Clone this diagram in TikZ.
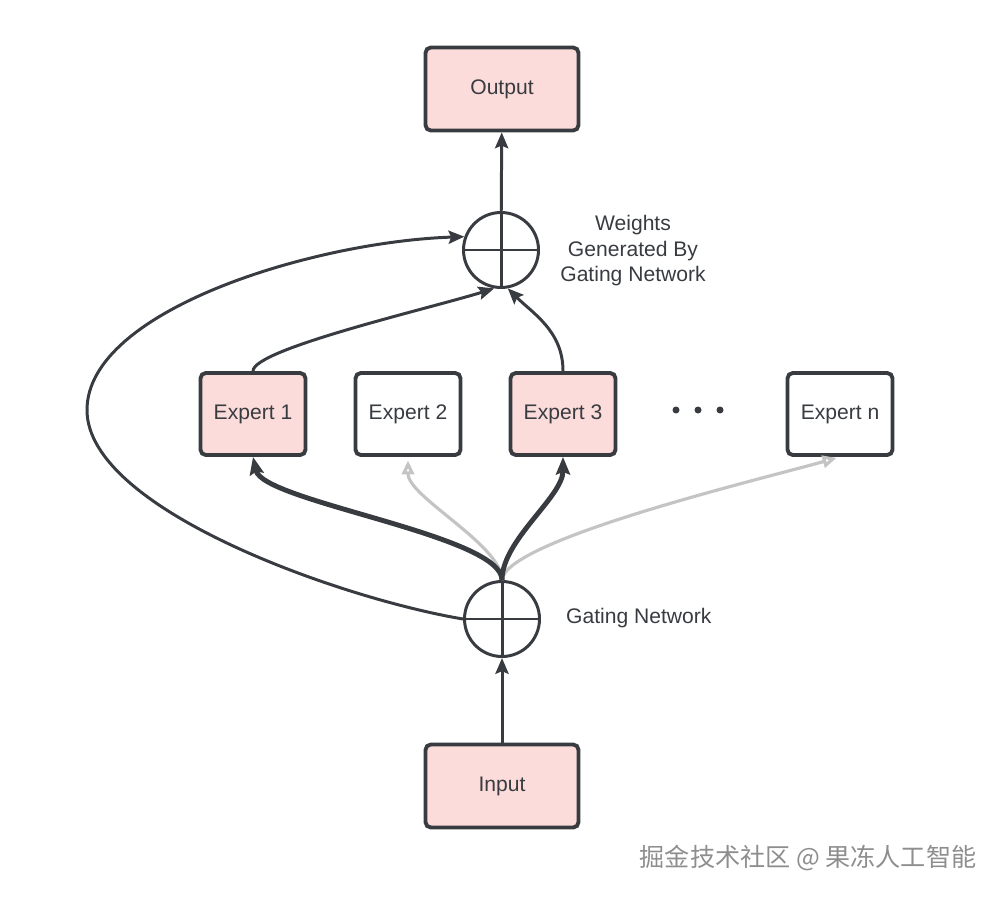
\documentclass[tikz,border=0pt]{standalone}
\usepackage{fontspec}
\setmainfont{Liberation Sans}
\newfontfamily\cjkfont{Noto Sans CJK SC}
\usetikzlibrary{arrows.meta}
\definecolor{inkgray}{HTML}{383C41}
\definecolor{rosefill}{HTML}{FCDCDA}
\definecolor{fadegray}{HTML}{C4C4C4}
\definecolor{markgray}{HTML}{8E8E8E}
\newcommand\boxedge{2.2pt}

\begin{document}
\begin{tikzpicture}[x=0.02cm, y=-0.02cm,
    font=\fontsize{12}{14.5}\selectfont, text=inkgray,
    block/.style={draw=inkgray, line width=\boxedge, rounded corners=3pt, minimum width=3.06cm, minimum height=1.66cm},
    expert/.style={block, minimum width=2.1cm, minimum height=1.64cm},
    active/.style={fill=rosefill},
    summer/.style={circle, draw=inkgray, line width=1.7pt, minimum size=1.5cm, inner sep=0pt},
    link/.style={draw=inkgray, line width=1.7pt, -{Stealth[length=9pt,width=7.5pt,inset=1.5pt]}},
    route/.style={draw=inkgray, line width=2.8pt, -{Stealth[length=10pt,width=8pt,inset=1.5pt]}},
    idle/.style={draw=fadegray, line width=1.8pt, shorten >=2pt, -{Triangle[open,length=8pt,width=7pt]}}]
            \useasboundingbox (0,0) rectangle (1000,898);
            \node[block, active] (output) at (502,89) {Output};
            \node[summer] (mix) at (501,250) {};
            \draw[inkgray, line width=1.7pt] (mix.north) -- (mix.south) (mix.west) -- (mix.east);
            \node[align=center] (mixlabel) at (633,251) {Weights\\Generated By\\Gating Network};
            \node[expert, active] (e1) at (253,414) {Expert 1};
            \node[expert] (e2) at (408,414) {Expert 2};
            \node[expert, active] (e3) at (563,414) {Expert 3};
            \foreach \dx in {676,698,720} \fill[inkgray] (\dx,410) circle (3.5);
            \node[expert] (en) at (840,414) {Expert n};
            \node[summer] (gate) at (502,619) {};
            \draw[inkgray, line width=1.7pt] (gate.north) -- (gate.south) (gate.west) -- (gate.east);
            \node[anchor=west] (gatelabel) at (560,618) {Gating Network};
            \node[block, active] (input) at (502,786) {Input};
            \coordinate (loopturn) at (87,410);
            % gating network to experts
            \draw[idle] (gate.north) .. controls +(0,-35) and +(0,40) .. (e2.south);
            \draw[idle] (gate.north) .. controls +(3,-40) and +(-78,22) .. (en.south);
            \draw[route] (gate.north) .. controls +(0,-45) and +(10,45) .. (e1.south);
            \draw[route] (gate.north) .. controls +(0,-40) and +(0,40) .. (e3.south);
            % experts to weighted sum
            \draw[link] (e1.north) .. controls +(0,-22) and +(-64,20) .. (mix.-100);
            \draw[link] (e3.north) .. controls +(0,-40) and +(25,25) .. (mix.-80);
            \draw[link] (gate.west) .. controls +(-120,-20) and +(0,100) .. (loopturn) .. controls +(0,-100) and +(-150,5) .. (mix.160);
            \draw[link] (input) -- (gate);
            \draw[link] (mix) -- (output);
            \node[font=\cjkfont\fontsize{14.3}{17}\selectfont, text=markgray] (mark) at (808,858) {掘金技术社区 @ 果冻人工智能};
        \end{tikzpicture}
\end{document}
